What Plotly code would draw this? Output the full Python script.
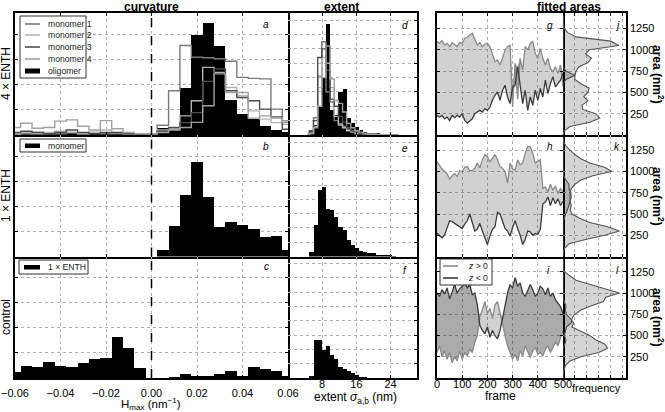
import plotly.graph_objects as go

W, H = 665, 412

# ---------------- data ----------------
curv_centers = [-0.060, -0.055, -0.050, -0.045, -0.040, -0.035, -0.030, -0.025, -0.020, -0.015,
                -0.010, -0.005, 0.000, 0.005, 0.010, 0.015, 0.020, 0.025, 0.030, 0.035,
                0.040, 0.045, 0.050, 0.055, 0.060]
curv_width = 0.005
olig_curv = [0.05, 0.08, 0.05, 0.10, 0.08, 0.10, 0.10, 0.05, 0.08, 0.05, 0.03, 0.02, 0.00,
             0.27, 0.19, 1.85, 3.98, 4.45, 3.52, 1.40, 0.85, 0.62, 0.34, 0.20, 0.10]
mono1_curv = [0.02, 0.05, 0.10, 0.05, 0.05, 0.10, 0.05, 0.10, 0.05, 0.05, 0.02, 0.02, 0.05,
              0.39, 1.76, 3.56, 3.09, 3.07, 3.03, 2.93, 2.29, 2.25, 2.23, 1.03, 0.56]
mono2_curv = [0.05, 0.10, 0.05, 0.10, 0.15, 0.10, 0.05, 0.10, 0.20, 0.10, 0.05, 0.02, 0.02,
              0.20, 0.25, 0.76, 1.36, 2.69, 2.49, 1.89, 1.56, 0.96, 0.63, 0.49, 0.43]
mono3_curv = [0.10, 0.15, 0.10, 0.05, 0.10, 0.20, 0.10, 0.05, 0.10, 0.10, 0.05, 0.02, 0.00,
              0.15, 0.30, 0.49, 0.89, 2.13, 2.63, 1.76, 1.49, 1.36, 1.03, 0.72, 0.23]
mono4_curv = [0.30, 0.47, 0.27, 0.30, 0.55, 0.60, 0.35, 0.20, 0.57, 0.25, 0.10, 0.05, 0.05,
              0.10, 0.20, 0.30, 0.50, 1.16, 2.43, 1.69, 1.69, 0.67, 0.76, 0.67, 0.50]
mono_1x_curv = [0, 0, 0, 0, 0, 0, 0, 0, 0, 0, 0, 0, 0,
                0.26, 1.22, 2.47, 3.76, 2.37, 1.16, 1.36, 1.26, 1.09, 0.76, 0.81, 0.26]
ctrl_curv = [0.25, 0.51, 0.45, 0.65, 0.51, 0.45, 0.61, 0.76, 0.81, 1.67, 1.21, 0.41, 0.00,
             0.00, 0.05, 0.16, 0.11, 0.11, 0.16, 0.31, 0.11, 0.45, 0.36, 0.31, 0.11]

ext_centers = [5.49, 6.46, 7.43, 8.40, 9.37, 10.34, 11.31, 12.28, 13.25, 14.22, 15.19,
               16.16, 17.13, 18.10, 19.07, 20.04, 21.01, 21.98, 22.95, 23.92, 24.89]
ext_width = 0.97
olig_ext = [0.35, 0.70, 1.98, 4.00, 7.76, 1.75, 1.40, 3.03, 3.20, 1.17, 0.82, 0.54, 0.35,
            0.23, 0.16, 0.10, 0.08, 0.05, 0.04, 0.03, 0.02]
mono1_ext = [0.2, 1.2, 4.1, 6.5, 3.0, 2.3, 1.0, 0.8, 0.6, 0.4, 0.3, 0.2, 0.1, 0.1, 0.05,
             0.05, 0.03, 0.02, 0.02, 0.01, 0.0]
mono2_ext = [0.1, 0.6, 3.3, 5.4, 5.0, 3.3, 1.3, 0.7, 0.5, 0.3, 0.2, 0.1, 0.1, 0.05, 0.05,
             0.03, 0.02, 0.01, 0.0, 0.0, 0.0]
mono3_ext = [0.3, 1.0, 5.4, 6.0, 4.5, 2.5, 2.0, 1.3, 0.9, 0.5, 0.3, 0.2, 0.1, 0.05, 0.05,
             0.03, 0.02, 0.02, 0.01, 0.0, 0.0]
mono4_ext = [0.1, 0.5, 2.0, 4.0, 6.2, 3.9, 2.4, 2.2, 1.6, 0.8, 0.5, 0.3, 0.2, 0.1, 0.05,
             0.05, 0.03, 0.02, 0.02, 0.01, 0.0]
mono_1x_ext = [0.34, 2.20, 4.65, 4.88, 3.32, 3.25, 2.74, 2.09, 1.85, 1.15, 0.80, 0.57, 0.41,
               0.31, 0.22, 0.22, 0.13, 0.10, 0.07, 0.04, 0.02]
ctrl_ext = [0.21, 2.70, 2.70, 2.00, 2.30, 1.61, 1.38, 0.79, 0.68, 0.51, 0.37, 0.28, 0.14,
            0.05, 0.0, 0.0, 0.0, 0.0, 0.0, 0.0, 0.0]

frames = list(range(0, 501, 10))
g_zpos = [1094, 1075, 1106, 1055, 1075, 1036, 1083, 1063, 1036, 1083, 1075, 1134, 1145, 1173,
          1193, 1122, 1055, 1083, 1036, 1067, 1075, 1036, 938, 859, 879, 820, 899, 997, 1036,
          1055, 330, 840, 420, 899, 761, 1036, 997, 1075, 1094, 957, 899, 1016, 899, 820, 899,
          781, 742, 800, 722, 820, 565]
g_zneg = [230, 210, 230, 190, 210, 171, 230, 203, 230, 210, 250, 171, 139, 163, 190, 250, 269,
          289, 269, 309, 289, 328, 407, 466, 505, 407, 525, 584, 446, 368, 560, 584, 800, 604,
          368, 525, 289, 446, 348, 525, 407, 545, 446, 643, 486, 604, 683, 565, 604, 643, 722]
h_zpos = [1118, 1070, 1030, 1000, 975, 910, 950, 975, 941, 1010, 1000, 1050, 1059, 1010, 1010,
          1040, 1099, 1045, 1140, 1197, 1178, 1110, 1150, 1200, 1138, 1060, 1040, 1000, 863, 1100,
          1030, 1020, 1138, 1080, 1100, 1217, 1295, 1290, 1217, 1100, 1120, 1140, 800, 820, 760,
          850, 780, 830, 740, 800, 760]
h_zneg = [273, 250, 220, 250, 350, 420, 410, 390, 371, 360, 330, 380, 420, 500, 400, 300, 320,
          390, 300, 220, 140, 240, 320, 350, 520, 500, 420, 330, 300, 240, 340, 420, 330, 250,
          140, 200, 300, 290, 250, 270, 260, 320, 620, 640, 700, 600, 690, 620, 680, 600, 650]
i_zpos = [300, 380, 250, 320, 220, 300, 180, 250, 200, 320, 220, 300, 260, 340, 300, 420, 500,
          720, 800, 900, 760, 820, 700, 860, 900, 780, 640, 500, 380, 300, 220, 280, 200, 320,
          260, 380, 300, 240, 320, 360, 280, 300, 260, 340, 380, 300, 360, 420, 380, 460, 560]
i_zneg = [1000, 960, 1040, 990, 1060, 930, 1010, 1100, 1000, 1050, 1080, 1120, 1060, 1100, 980,
          1000, 860, 620, 560, 520, 600, 480, 560, 500, 460, 560, 700, 860, 1000, 1100, 1060,
          1180, 1080, 1120, 1000, 960, 1040, 1100, 1040, 960, 1000, 1080, 1050, 980, 1060, 960,
          1000, 920, 880, 840, 760]

area_bins = list(range(0, 1401, 50))
j_upper = [0, 0, 0, 0, 0, 0, 0, 0, 0, 0, 0, 0, 0, 0.05, 0.20, 0.22, 0.27, 0.42, 0.48, 0.38,
           0.45, 0.94, 0.80, 0.22, 0.08, 0.02, 0, 0, 0]
j_lower = [0, 0.02, 0.12, 0.45, 0.62, 0.55, 0.33, 0.32, 0.42, 0.35, 0.42, 0.44, 0.30, 0.20,
           0.20, 0.05, 0, 0, 0, 0, 0, 0, 0, 0, 0, 0, 0, 0, 0]
k_upper = [0, 0, 0, 0, 0, 0, 0, 0, 0, 0.02, 0.05, 0.08, 0.10, 0.12, 0.12, 0.12, 0.14, 0.20,
           0.30, 0.50, 0.82, 0.70, 0.45, 0.30, 0.20, 0.12, 0.05, 0.01, 0]
k_lower = [0, 0, 0.03, 0.10, 0.38, 0.70, 0.95, 0.75, 0.45, 0.28, 0.15, 0.12, 0.14, 0.12, 0.14,
           0.13, 0.10, 0.10, 0.05, 0.01, 0, 0, 0, 0, 0, 0, 0, 0, 0]
l_upper = [0, 0, 0, 0, 0, 0, 0, 0, 0.03, 0.05, 0.02, 0.04, 0.06, 0.14, 0.15, 0.20, 0.30, 0.48,
           0.68, 0.72, 0.95, 0.70, 0.45, 0.22, 0.12, 0.02, 0, 0, 0]
l_lower = [0, 0, 0.02, 0.04, 0.12, 0.30, 0.60, 0.75, 0.70, 0.55, 0.45, 0.30, 0.15, 0.18, 0.12,
           0.06, 0.04, 0.05, 0.02, 0, 0, 0, 0, 0, 0, 0, 0, 0, 0]

legend_a_labels = ["monomer 1", "monomer 2", "monomer 3", "monomer 4", "oligomer"]
legend_b_labels = ["monomer"]
legend_c_labels = ["1 × ENTH"]
legend_i_labels = ["<i>z</i> &gt; 0", "<i>z</i> &lt; 0"]

# ---------------- layout helpers ----------------
FONT = "Liberation Sans, Arial, sans-serif"
cols = [(15, 288), (288, 417), (437, 563), (563, 626)]
rows = [(13, 135), (135, 256.5), (256.5, 378)]
mono_colors = ["#7a7a7a", "#b4b4b4", "#4d4d4d", "#a0a0a0"]
ZPOS_C, ZNEG_C = "#8a8a8a", "#3c3c3c"


def aid(r, c):
    return r * 4 + c + 1


def xname(r, c):
    n = aid(r, c)
    return "x" if n == 1 else f"x{n}"


def yname(r, c):
    n = aid(r, c)
    return "y" if n == 1 else f"y{n}"


def step_xy(centers, heights, w):
    xs = [centers[0] - w] + list(centers) + [centers[-1] + w]
    ys = [0] + list(heights) + [0]
    return xs, ys


fig = go.Figure()


def add_bar(r, c, xs, ys, w):
    fig.add_trace(go.Bar(x=xs, y=ys, width=w, marker=dict(color="black", line=dict(width=0)),
                         xaxis=xname(r, c), yaxis=yname(r, c), showlegend=False))


def add_step(r, c, xs, ys, w, color):
    sx, sy = step_xy(xs, ys, w)
    fig.add_trace(go.Scatter(x=sx, y=sy, mode="lines", line=dict(color=color, width=1.4, shape="hvh"),
                             xaxis=xname(r, c), yaxis=yname(r, c), showlegend=False))


# Row 1: 4 x ENTH
add_bar(0, 0, curv_centers, olig_curv, curv_width)
for k, m in enumerate([mono1_curv, mono2_curv, mono3_curv, mono4_curv]):
    add_step(0, 0, curv_centers, m, curv_width, mono_colors[k])
add_bar(0, 1, ext_centers, olig_ext, ext_width)
for k, m in enumerate([mono1_ext, mono2_ext, mono3_ext, mono4_ext]):
    add_step(0, 1, ext_centers, m, ext_width, mono_colors[k])

# Row 2: 1 x ENTH
add_bar(1, 0, curv_centers, mono_1x_curv, curv_width)
add_bar(1, 1, ext_centers, mono_1x_ext, ext_width)

# Row 3: control
add_bar(2, 0, curv_centers, ctrl_curv, curv_width)
add_bar(2, 1, ext_centers, ctrl_ext, ext_width)

# fitted areas
series = [(g_zpos, g_zneg), (h_zpos, h_zneg), (i_zpos, i_zneg)]
for r, (zp, zn) in enumerate(series):
    top = [max(a, b) for a, b in zip(zp, zn)]
    xa, ya = xname(r, 2), yname(r, 2)
    common = dict(x=frames, mode="lines", showlegend=False, xaxis=xa, yaxis=ya, hoverinfo="skip")
    fig.add_trace(go.Scatter(y=zn, line=dict(width=0), **common))
    fig.add_trace(go.Scatter(y=top, line=dict(width=0), fill="tonexty",
                             fillcolor="rgba(0,0,0,0.18)", **common))
    fig.add_trace(go.Scatter(y=zp, line=dict(width=0), **common))
    fig.add_trace(go.Scatter(y=top, line=dict(width=0), fill="tonexty",
                             fillcolor="rgba(0,0,0,0.33)", **common))
    fig.add_trace(go.Scatter(y=zp, line=dict(color=ZPOS_C, width=1.3), **common))
    fig.add_trace(go.Scatter(y=zn, line=dict(color=ZNEG_C, width=1.3), **common))

# area histograms
hists = [(j_upper, j_lower), (k_upper, k_lower), (l_upper, l_lower)]
for r, (hu, hl) in enumerate(hists):
    for hv in (hu, hl):
        fig.add_trace(go.Scatter(x=hv, y=area_bins, mode="lines", fill="tozerox",
                                 fillcolor="rgba(0,0,0,0.17)", line=dict(color="#555555", width=1.1),
                                 showlegend=False, xaxis=xname(r, 3), yaxis=yname(r, 3)))

# ---------------- axes ----------------
base = dict(showline=True, linecolor="black", linewidth=1.5, mirror="ticks", ticks="inside",
            ticklen=3, tickcolor="black", showgrid=True, gridcolor="#b0b0b0", griddash="dot",
            gridwidth=1, zeroline=False, tickfont=dict(size=11, color="black", family=FONT),
            fixedrange=True, automargin=False)

layout_axes = {}
for r in range(3):
    for c in range(4):
        n = aid(r, c)
        x0, x1 = cols[c]
        y0, y1 = rows[r]
        xk = "xaxis" if n == 1 else f"xaxis{n}"
        yk = "yaxis" if n == 1 else f"yaxis{n}"
        xa = dict(base, domain=[x0 / W, x1 / W], anchor=yname(r, c))
        ya = dict(base, domain=[1 - y1 / H, 1 - y0 / H], anchor=xname(r, c))
        if r > 0:
            xa["mirror"] = False  # top border comes from the row above
        bottom = (r == 2)
        if c == 0:
            xa.update(range=[-0.06, 0.06], dtick=0.02, tickformat=".2f", showticklabels=bottom,
                      ticklabelstandoff=4)
            ya.update(range=[0, 4.85], dtick=1, showticklabels=False)
        elif c == 1:
            xa.update(range=[0, 30.2], tickvals=[8, 16, 24], showticklabels=bottom,
                      ticklabelstandoff=-5)
            ya.update(range=[0, 8.5], dtick=1, showticklabels=False, side="right", mirror=False)
        elif c == 2:
            xa.update(range=[0, 500], dtick=100, showticklabels=bottom, ticklabelstandoff=-5)
            ya.update(range=[0, 1430], dtick=250, showticklabels=False)
        else:
            xa.update(range=[0, 1.06], dtick=0.2, showticklabels=False)
            ya.update(range=[0, 1430], tickvals=[250, 500, 750, 1000, 1250], side="right",
                      showticklabels=True, mirror=False)
        layout_axes[xk] = xa
        layout_axes[yk] = ya

fig.update_layout(**layout_axes)

shapes = []
# dashed zero line in curvature panels
for r in range(3):
    shapes.append(dict(type="line", xref=xname(r, 0), yref=yname(r, 0) + " domain", x0=0, x1=0,
                       y0=0, y1=1, line=dict(color="black", width=1.5, dash="dash")))

ann = []


def px(x):
    return x / W


def py(y):
    return 1 - y / H


def txt(x, y, s, size=11, bold=False, italic=False, angle=0, xanchor="center", color="black"):
    if bold:
        s = f"<b>{s}</b>"
    if italic:
        s = f"<i>{s}</i>"
    ann.append(dict(x=px(x), y=py(y), xref="paper", yref="paper", text=s, showarrow=False,
                    textangle=angle, xanchor=xanchor, yanchor="middle",
                    font=dict(size=size, color=color, family=FONT)))


def box(x0, y0, x1, y1, fill="white", line="#333333", lw=1):
    shapes.append(dict(type="rect", xref="paper", yref="paper", x0=px(x0), x1=px(x1),
                       y0=py(y1), y1=py(y0), fillcolor=fill, line=dict(color=line, width=lw),
                       layer="above"))


def hline(x0, x1, y, color, lw=1.6):
    shapes.append(dict(type="line", xref="paper", yref="paper", x0=px(x0), x1=px(x1),
                       y0=py(y), y1=py(y), line=dict(color=color, width=lw), layer="above"))


LF = 8.6
# legends (drawn by hand to get matplotlib-like compact spacing)
box(20, 16, 86, 78)
leg_a_y = [24, 35, 47, 59]
for k in range(4):
    hline(25, 40, leg_a_y[k], mono_colors[k])
    txt(46, leg_a_y[k], legend_a_labels[k], LF, xanchor="left", color="#222222")
box(25, 68.5, 40, 73.5, fill="black", line="black", lw=0)
txt(46, 71, legend_a_labels[4], LF, xanchor="left", color="#222222")

box(20, 139, 86, 152)
box(25, 143.5, 40, 148, fill="black", line="black", lw=0)
txt(46, 145.7, legend_b_labels[0], LF, xanchor="left", color="#222222")

box(19, 260, 88, 274)
box(24, 265, 40, 269.5, fill="black", line="black", lw=0)
txt(46, 267, legend_c_labels[0], LF, xanchor="left", color="#222222")

box(440, 259, 492, 285)
hline(443, 458, 266, ZPOS_C)
hline(443, 458, 278, ZNEG_C)
txt(466, 266, legend_i_labels[0], LF, xanchor="left", color="#222222")
txt(466, 278, legend_i_labels[1], LF, xanchor="left", color="#222222")

txt(151, 7, "curvature", 12, bold=True)
txt(342, 7, "extent", 12, bold=True)
txt(569, 7, "fitted areas", 12, bold=True)
txt(6, 74, "4 × ENTH", 12, angle=-90)
txt(6, 196, "1 × ENTH", 12, angle=-90)
txt(6, 317, "control", 12, angle=-90)
txt(151, 403.5, "H<sub>max</sub> (nm<sup>−1</sup>)", 11.5)
txt(355, 398, "extent <i>σ</i><sub>a,b</sub> (nm)", 12)
txt(500, 396, "frame", 12)
txt(596, 388, "frequency", 11)
for yc in (74, 196, 317):
    txt(658, yc, "area (nm<sup>2</sup>)", 12, bold=True, angle=90)
letters = [("a", 266, 25), ("d", 405, 26), ("g", 550, 26), ("j", 617, 26),
           ("b", 266, 146), ("e", 405, 148), ("h", 550, 147), ("k", 617, 147),
           ("c", 266, 266), ("f", 405, 270), ("i", 548, 270), ("l", 617, 270)]
for s, x, y in letters:
    txt(x, y, s, 10, italic=True)

fig.update_layout(
    width=W, height=H, margin=dict(l=0, r=0, t=0, b=0, pad=0), autosize=False,
    paper_bgcolor="white", plot_bgcolor="white", barmode="overlay", bargap=0,
    font=dict(family=FONT, color="black"), showlegend=False,
    annotations=ann, shapes=shapes,
)
fig.write_html("out.html", config={"displayModeBar": False},
               post_script="document.body.style.margin='0';")
